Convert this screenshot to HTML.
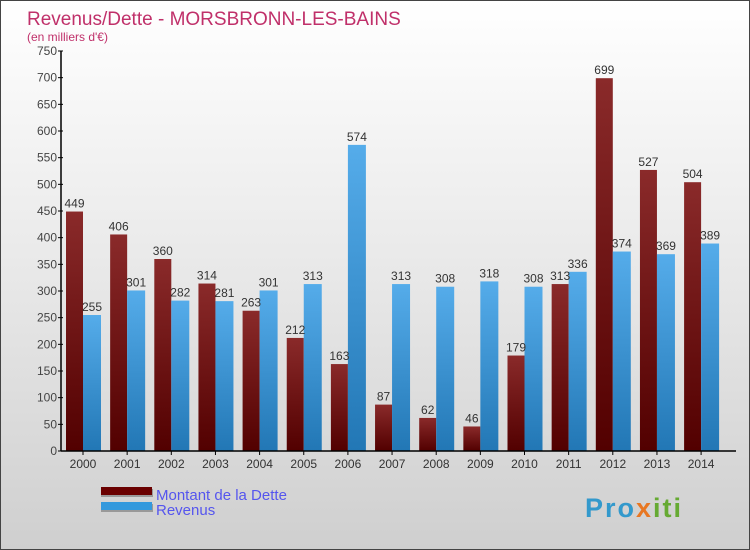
<!DOCTYPE html>
<html><head><meta charset="utf-8"><style>
body{margin:0}
#c{width:748px;height:548px;border:1px solid #444;position:relative;background:linear-gradient(#ffffff,#e8e8e8 50%,#cfcfcf);font-family:"Liberation Sans",sans-serif;overflow:hidden}
</style></head><body>
<div id="c">
<svg width="748" height="548" xmlns="http://www.w3.org/2000/svg" id="svg">
<defs>
<linearGradient id="gd" x1="0" y1="0" x2="0" y2="1"><stop offset="0" stop-color="#8a2a2a"/><stop offset="1" stop-color="#520000"/></linearGradient>
<linearGradient id="gr" x1="0" y1="0" x2="0" y2="1"><stop offset="0" stop-color="#55acea"/><stop offset="1" stop-color="#2277b5"/></linearGradient>
</defs>
<text x="26" y="24" font-size="19" fill="#c0306a">Revenus/Dette - MORSBRONN-LES-BAINS</text>
<text x="26" y="40" font-size="12" fill="#c0306a">(en milliers d'€)</text>
<g id="bars"></g>
<g id="axes"></g>
<rect x="100" y="488" width="52" height="8" fill="#999"/>
<rect x="100" y="486" width="51" height="8" fill="#6a0000"/>
<rect x="100" y="503" width="52" height="8" fill="#999"/>
<rect x="100" y="501" width="51" height="8" fill="#3399dd"/>
<text x="155" y="499" font-size="15" fill="#5555ee">Montant de la Dette</text>
<text x="155" y="514" font-size="15" fill="#5555ee">Revenus</text>
<text x="584" y="516" font-size="27" font-weight="bold" letter-spacing="2" fill="#3399cc">Pro<tspan fill="#e87722">x</tspan><tspan fill="#66aa33">iti</tspan></text>
</svg>
</div>
<script>
const years=["2000","2001","2002","2003","2004","2005","2006","2007","2008","2009","2010","2011","2012","2013","2014"];
const dette=[449,406,360,314,263,212,163,87,62,46,179,313,699,527,504];
const revenus=[255,301,282,281,301,313,574,313,308,318,308,336,374,369,389];
const yTicks=[0,50,100,150,200,250,300,350,400,450,500,550,600,650,700,750];
const NS="http://www.w3.org/2000/svg";
const x0=60,y0=450,yTop=50,vmax=750,step=44.15,first=82;
const y=v=>y0-(v/vmax)*(y0-yTop);
const cx=i=>first+i*step;
function mk(t,a,p){const e=document.createElementNS(NS,t);for(const k in a)e.setAttribute(k,a[k]);p.appendChild(e);return e;}
const bars=document.getElementById('bars'),axes=document.getElementById('axes');
years.forEach((yr,i)=>{
  const c=cx(i);
  let r=mk('rect',{x:c-17,y:y(dette[i]),width:17,height:y0-y(dette[i]),fill:'url(#gd)'},bars);
  
  
  r=mk('rect',{x:c,y:y(revenus[i]),width:18,height:y0-y(revenus[i]),fill:'url(#gr)'},bars);
  
  
  let t=mk('text',{x:c-8.5,y:y(dette[i])-4,'font-size':12,fill:'#333','text-anchor':'middle'},bars);t.textContent=dette[i];
  
  
  t=mk('text',{x:c+9,y:y(revenus[i])-4,'font-size':12,fill:'#333','text-anchor':'middle'},bars);t.textContent=revenus[i];
  
  
  t=mk('text',{x:c,y:467,'font-size':12,fill:'#333','text-anchor':'middle'},axes);t.textContent=yr;
  
  
  mk('line',{x1:c,x2:c,y1:450,y2:454,stroke:'#000'},axes);
});
yTicks.forEach(v=>{
  mk('line',{x1:x0-3,x2:x0+2,y1:y(v),y2:y(v),stroke:'#000'},axes);
  const t=mk('text',{x:x0-4,y:y(v)+4,'font-size':12,fill:'#444','text-anchor':'end'},axes);t.textContent=v;
  
  
});
let l=mk('line',{x1:x0,x2:x0,y1:yTop,y2:y0,stroke:'#000','stroke-width':1.5},axes);


l=mk('line',{x1:x0,x2:735,y1:y0,y2:y0,stroke:'#000','stroke-width':1.5},axes);


</script>
</body></html>
